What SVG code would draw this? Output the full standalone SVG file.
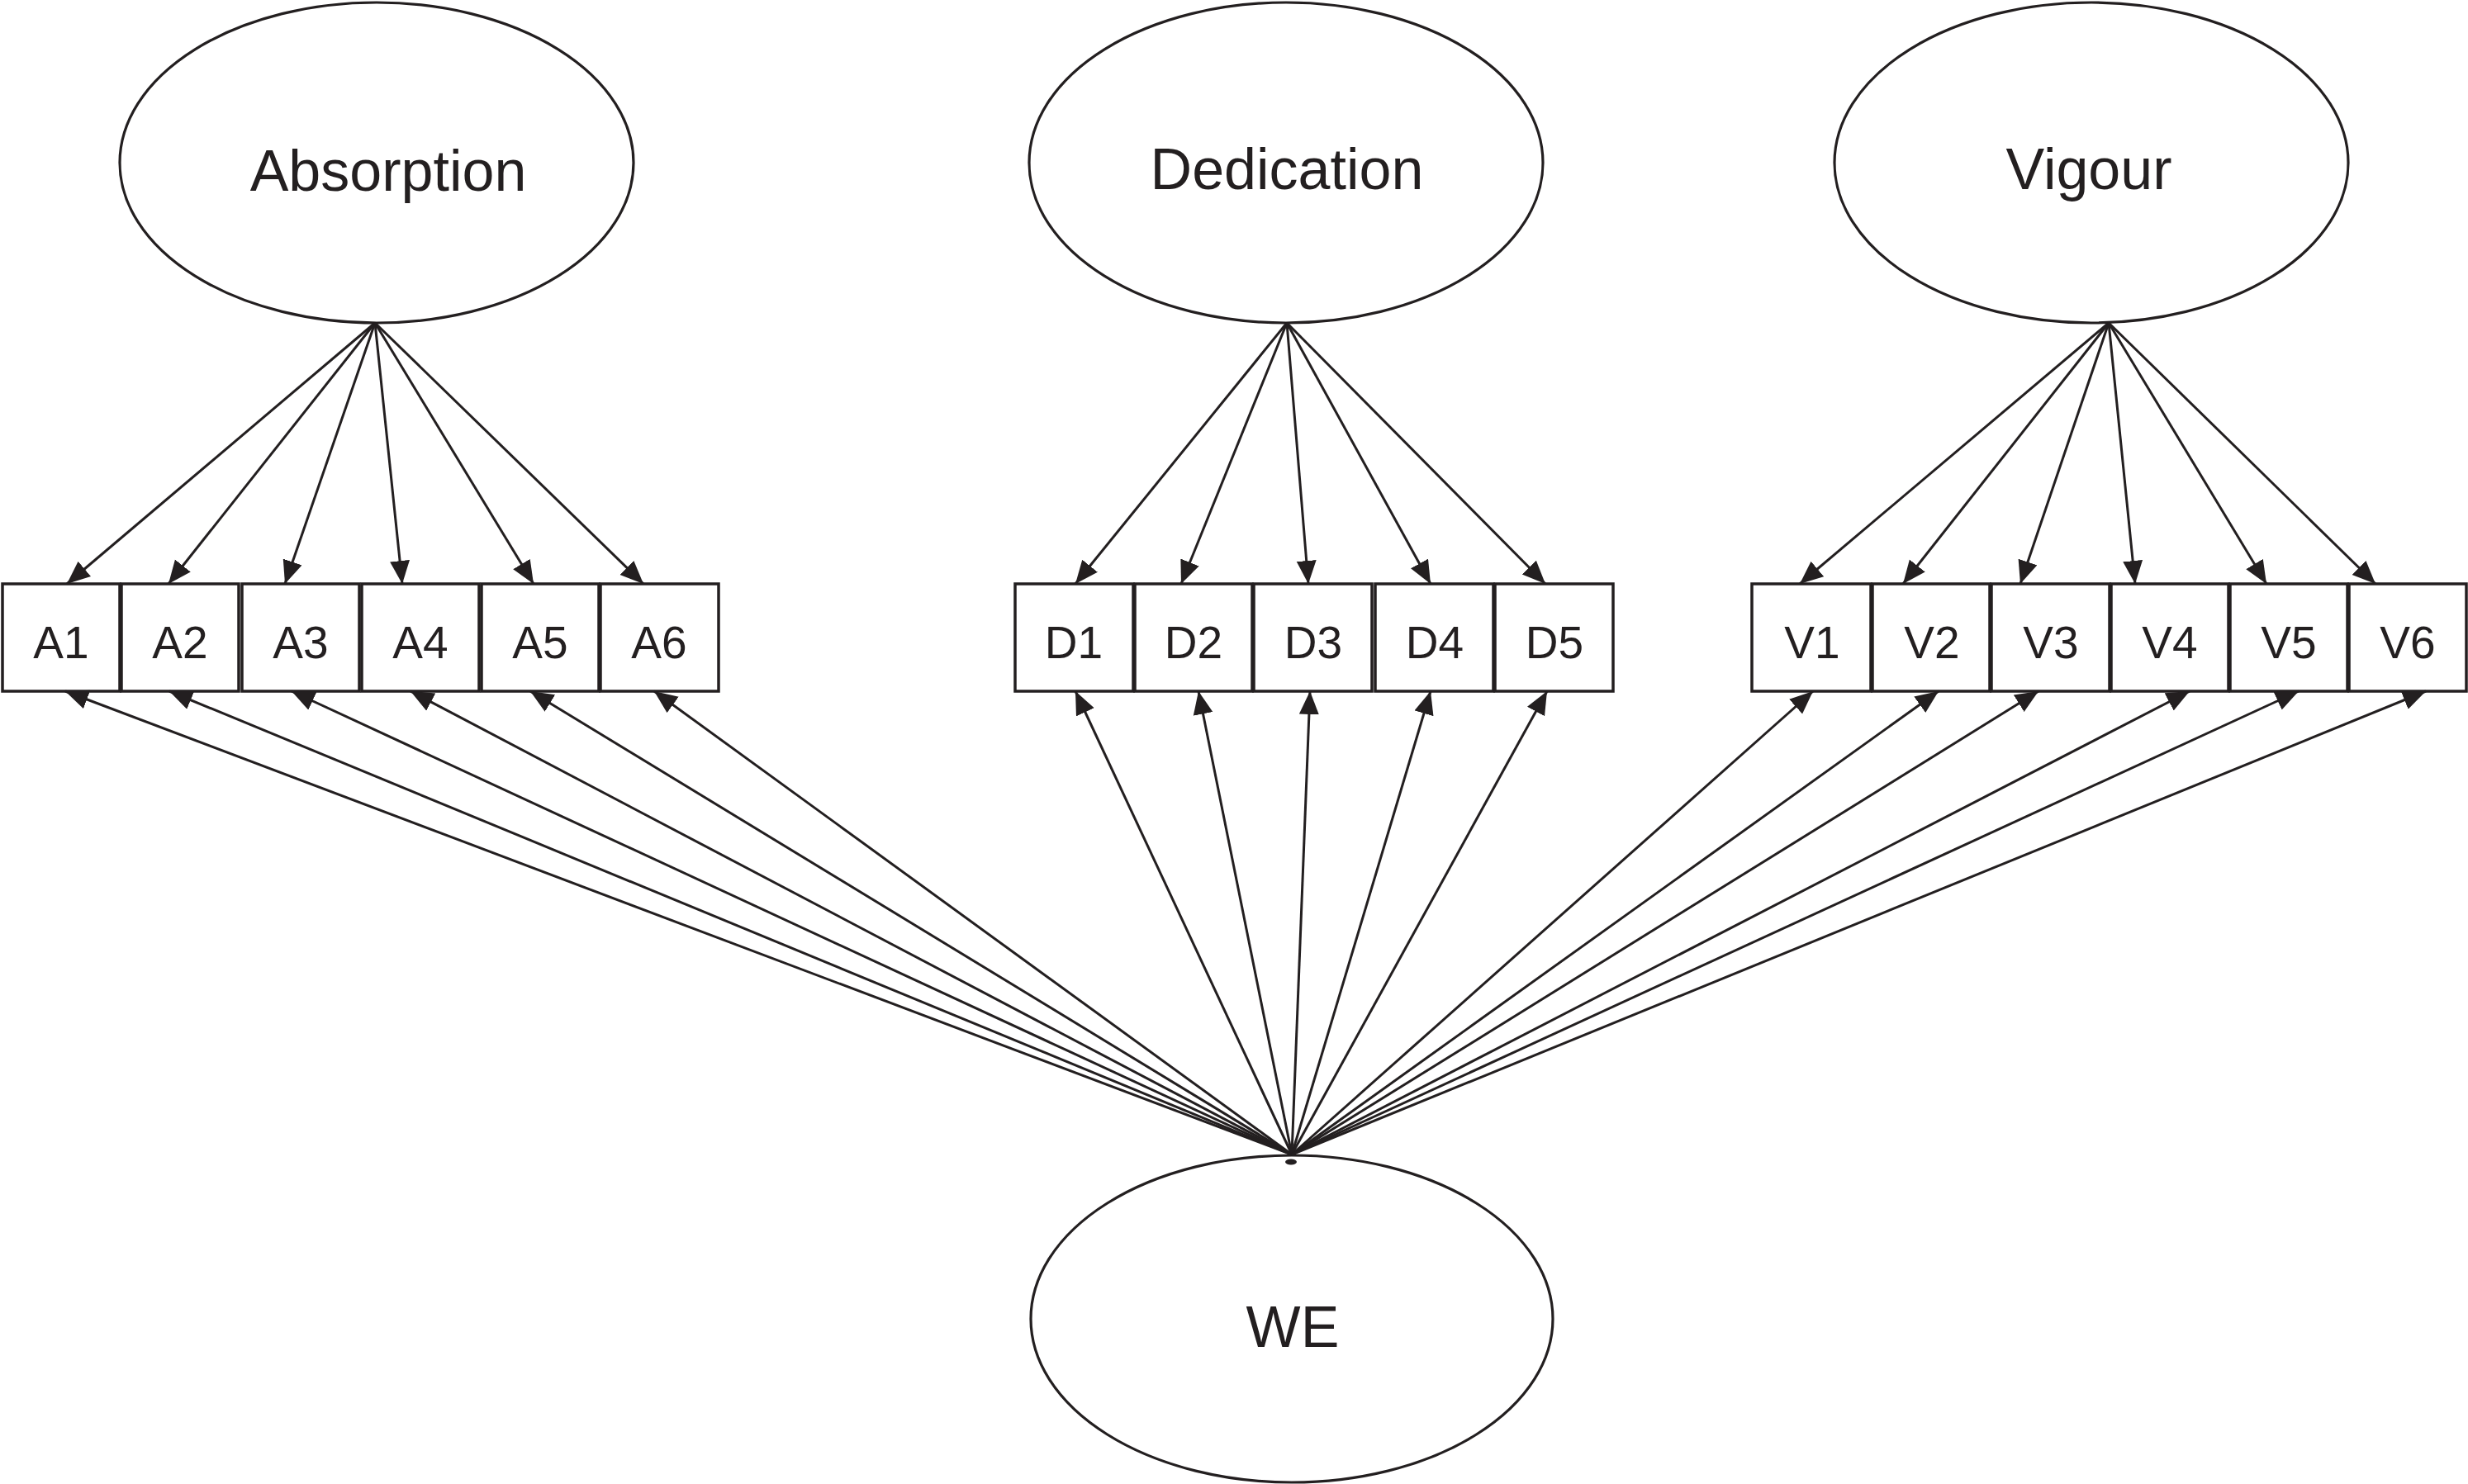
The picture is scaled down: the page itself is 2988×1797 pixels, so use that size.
<svg xmlns="http://www.w3.org/2000/svg" width="2988" height="1797" viewBox="0 0 2988 1797">
<style>
.lat{fill:#fff;stroke:#231f20;stroke-width:3.2}
.box{fill:#fff;stroke:#231f20;stroke-width:3.5}
.lbl{font-family:"Liberation Sans",Arial,Helvetica,sans-serif;fill:#231f20;text-anchor:middle}
.big{font-size:70px}
.sm{font-size:55px}
.cn line{stroke:#231f20;stroke-width:3;marker-end:url(#ah)}
</style>
<defs>
<marker id="ah" markerUnits="userSpaceOnUse" markerWidth="30" markerHeight="26" refX="28" refY="12" orient="auto">
<path d="M0,0 L28,12 L0,24 z" fill="#231f20"/>
</marker>
</defs>
<rect width="2988" height="1797" fill="#fff"/>
<g id="absorption"><ellipse class="lat" cx="456" cy="197" rx="311" ry="194"/><text class="lbl big" x="470" y="231">Absorption</text></g>
<g id="dedication"><ellipse class="lat" cx="1557" cy="197" rx="311" ry="194"/><text class="lbl big" x="1558" y="229">Dedication</text></g>
<g id="vigour"><ellipse class="lat" cx="2532" cy="197" rx="311" ry="194"/><text class="lbl big" x="2529" y="229">Vigour</text></g>
<g id="we"><ellipse class="lat" cx="1564" cy="1597" rx="316" ry="198"/><text class="lbl big" x="1565" y="1631">WE</text></g>
<g id="A1"><rect class="box" x="3" y="707" width="142" height="130"/><text class="lbl sm" x="74" y="797">A1</text></g>
<g id="A2"><rect class="box" x="147" y="707" width="142" height="130"/><text class="lbl sm" x="218" y="797">A2</text></g>
<g id="A3"><rect class="box" x="293" y="707" width="142" height="130"/><text class="lbl sm" x="364" y="797">A3</text></g>
<g id="A4"><rect class="box" x="438" y="707" width="142" height="130"/><text class="lbl sm" x="509" y="797">A4</text></g>
<g id="A5"><rect class="box" x="583" y="707" width="142" height="130"/><text class="lbl sm" x="654" y="797">A5</text></g>
<g id="A6"><rect class="box" x="727" y="707" width="143" height="130"/><text class="lbl sm" x="798" y="797">A6</text></g>
<g id="D1"><rect class="box" x="1229" y="707" width="143" height="130"/><text class="lbl sm" x="1300" y="797">D1</text></g>
<g id="D2"><rect class="box" x="1374" y="707" width="142" height="130"/><text class="lbl sm" x="1445" y="797">D2</text></g>
<g id="D3"><rect class="box" x="1518" y="707" width="143" height="130"/><text class="lbl sm" x="1590" y="797">D3</text></g>
<g id="D4"><rect class="box" x="1665" y="707" width="143" height="130"/><text class="lbl sm" x="1737" y="797">D4</text></g>
<g id="D5"><rect class="box" x="1810" y="707" width="143" height="130"/><text class="lbl sm" x="1882" y="797">D5</text></g>
<g id="V1"><rect class="box" x="2121" y="707" width="144" height="130"/><text class="lbl sm" x="2194" y="797">V1</text></g>
<g id="V2"><rect class="box" x="2267" y="707" width="142" height="130"/><text class="lbl sm" x="2339" y="797">V2</text></g>
<g id="V3"><rect class="box" x="2411" y="707" width="143" height="130"/><text class="lbl sm" x="2483" y="797">V3</text></g>
<g id="V4"><rect class="box" x="2556" y="707" width="142" height="130"/><text class="lbl sm" x="2627" y="797">V4</text></g>
<g id="V5"><rect class="box" x="2700" y="707" width="142" height="130"/><text class="lbl sm" x="2771" y="797">V5</text></g>
<g id="V6"><rect class="box" x="2844" y="707" width="142" height="130"/><text class="lbl sm" x="2915" y="797">V6</text></g>
<g id="connectors" class="cn">
<line x1="454" y1="391" x2="81" y2="707"/>
<line x1="454" y1="391" x2="204" y2="707"/>
<line x1="454" y1="391" x2="345" y2="707"/>
<line x1="454" y1="391" x2="487" y2="707"/>
<line x1="454" y1="391" x2="646" y2="707"/>
<line x1="454" y1="391" x2="779" y2="707"/>
<line x1="1558" y1="391" x2="1302" y2="707"/>
<line x1="1558" y1="391" x2="1430" y2="707"/>
<line x1="1558" y1="391" x2="1584" y2="707"/>
<line x1="1558" y1="391" x2="1732" y2="707"/>
<line x1="1558" y1="391" x2="1871" y2="707"/>
<line x1="2553" y1="391" x2="2179" y2="707"/>
<line x1="2553" y1="391" x2="2304" y2="707"/>
<line x1="2553" y1="391" x2="2446" y2="707"/>
<line x1="2553" y1="391" x2="2585" y2="707"/>
<line x1="2553" y1="391" x2="2744" y2="707"/>
<line x1="2553" y1="391" x2="2876" y2="707"/>
<line x1="1564" y1="1398" x2="79" y2="837"/>
<line x1="1564" y1="1398" x2="205" y2="837"/>
<line x1="1564" y1="1398" x2="353" y2="837"/>
<line x1="1564" y1="1398" x2="497" y2="837"/>
<line x1="1564" y1="1398" x2="642" y2="837"/>
<line x1="1564" y1="1398" x2="792" y2="837"/>
<line x1="1564" y1="1398" x2="1302" y2="837"/>
<line x1="1564" y1="1398" x2="1451" y2="837"/>
<line x1="1564" y1="1398" x2="1586" y2="837"/>
<line x1="1564" y1="1398" x2="1732" y2="837"/>
<line x1="1564" y1="1398" x2="1873" y2="837"/>
<line x1="1564" y1="1398" x2="2195" y2="837"/>
<line x1="1564" y1="1398" x2="2347" y2="837"/>
<line x1="1564" y1="1398" x2="2468" y2="837"/>
<line x1="1564" y1="1398" x2="2651" y2="837"/>
<line x1="1564" y1="1398" x2="2783" y2="837"/>
<line x1="1564" y1="1398" x2="2937" y2="837"/>
<ellipse cx="1563" cy="1407" rx="7" ry="3.5" fill="#231f20"/>
</g>
</svg>
